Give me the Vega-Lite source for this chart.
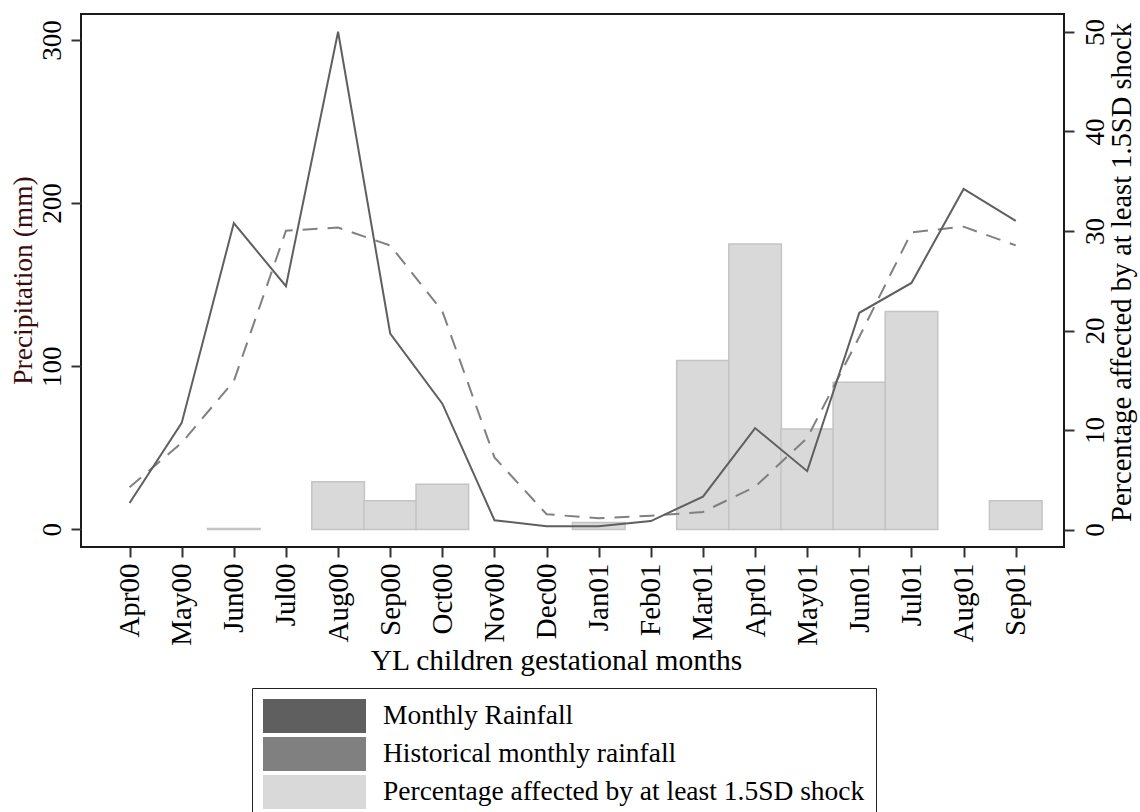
{
  "$schema": "https://vega.github.io/schema/vega-lite/v6.json",
  "width": 983,
  "height": 533,
  "autosize": "none",
  "padding": {"left": 81, "top": 14, "right": 76, "bottom": 265},
  "background": "white",
  "config": {
    "font": "Liberation Serif",
    "view": {"stroke": "#1a1a1a", "strokeWidth": 2},
    "axis": {"grid": false, "domain": false, "tickColor": "#333333", "tickWidth": 2, "tickSize": 10, "labelColor": "#000000", "titleColor": "#000000", "labelFontSize": 27, "titleFontSize": 27.5, "titleFontWeight": "normal", "labelFont": "Liberation Serif", "titleFont": "Liberation Serif"}
  },
  "data": {
    "values": [
      {"idx": 0, "month": "Apr00", "rainfall": 16.1, "historical": 25.8, "pct": null},
      {"idx": 1, "month": "May00", "rainfall": 65.2, "historical": 53, "pct": null},
      {"idx": 2, "month": "Jun00", "rainfall": 187.7, "historical": 90.8, "pct": 0.1},
      {"idx": 3, "month": "Jul00", "rainfall": 149, "historical": 183, "pct": null},
      {"idx": 4, "month": "Aug00", "rainfall": 305, "historical": 185, "pct": 4.8},
      {"idx": 5, "month": "Sep00", "rainfall": 120, "historical": 174, "pct": 2.9},
      {"idx": 6, "month": "Oct00", "rainfall": 77, "historical": 133.7, "pct": 4.55},
      {"idx": 7, "month": "Nov00", "rainfall": 5.5, "historical": 44, "pct": null},
      {"idx": 8, "month": "Dec00", "rainfall": 1.8, "historical": 9.2, "pct": null},
      {"idx": 9, "month": "Jan01", "rainfall": 1.8, "historical": 6.7, "pct": 0.7},
      {"idx": 10, "month": "Feb01", "rainfall": 5, "historical": 8.3, "pct": null},
      {"idx": 11, "month": "Mar01", "rainfall": 20, "historical": 10.6, "pct": 17.0},
      {"idx": 12, "month": "Apr01", "rainfall": 62, "historical": 26, "pct": 28.7},
      {"idx": 13, "month": "May01", "rainfall": 35.6, "historical": 56, "pct": 10.1},
      {"idx": 14, "month": "Jun01", "rainfall": 132.7, "historical": 118, "pct": 14.8},
      {"idx": 15, "month": "Jul01", "rainfall": 151, "historical": 182, "pct": 21.9},
      {"idx": 16, "month": "Aug01", "rainfall": 208.6, "historical": 185.5, "pct": null},
      {"idx": 17, "month": "Sep01", "rainfall": 189, "historical": 174, "pct": 2.9}
    ]
  },
  "encoding": {
    "x": {
      "field": "idx", "type": "quantitative",
      "scale": {"domain": [-0.836, 17.83], "nice": false, "zero": false},
      "axis": {
        "values": [0,1,2,3,4,5,6,7,8,9,10,11,12,13,14,15,16,17],
        "labelExpr": "['Apr00','May00','Jun00','Jul00','Aug00','Sep00','Oct00','Nov00','Dec00','Jan01','Feb01','Mar01','Apr01','May01','Jun01','Jul01','Aug01','Sep01'][datum.value]",
        "labelAngle": 270, "labelAlign": "right", "labelBaseline": "middle", "labelPadding": 6, "labelFontSize": 29,
        "title": "YL children gestational months", "titleFontSize": 29.5,
        "titleX": 475, "titleY": 113, "titleAlign": "center", "titleBaseline": "middle",
        "labelOverlap": false
      }
    }
  },
  "layer": [
    {
      "mark": {"type": "bar", "width": 52.6, "stroke": "#c4c4c4", "strokeWidth": 1.5},
      "encoding": {
        "y": {
          "field": "pct", "type": "quantitative",
          "scale": {"domain": [-1.75, 51.8], "nice": false, "zero": false},
          "axis": {
            "orient": "right", "values": [0,10,20,30,40,50],
            "labelAngle": 270, "labelAlign": "center", "labelBaseline": "top", "labelPadding": 8,
            "title": "Percentage affected by at least 1.5SD shock", "titleFontSize": 28.5,
            "titleAngle": 270, "titleX": 57, "titleY": 258, "titleAlign": "center", "titleBaseline": "middle"
          }
        },
        "color": {
          "datum": "pct",
          "type": "nominal",
          "scale": {
            "domain": ["rain", "hist", "pct"],
            "range": ["#5f5f5f", "#808080", "#d9d9d9"]
          },
          "legend": {
            "title": null,
            "orient": "none",
            "legendX": 171,
            "legendY": 674,
            "direction": "vertical",
            "strokeColor": "#222222",
            "padding": 11,
            "labelFont": "Liberation Serif",
            "labelFontSize": 27.5,
            "labelColor": "#000000",
            "labelLimit": 700,
            "labelOffset": 17,
            "symbolSize": 10201,
            "symbolStrokeWidth": 2,
            "clipHeight": 34,
            "rowPadding": 4,
            "labelExpr": "datum.value === 'rain' ? 'Monthly Rainfall' : (datum.value === 'hist' ? 'Historical monthly rainfall' : 'Percentage affected by at least 1.5SD shock')",
            "encode": {
              "legend": {"strokeWidth": {"value": 1.5}},
              "symbols": {
                "shape": {"value": {"signal": "datum.value === 'pct' ? 'M-1,-0.25H1V0.25H-1Z' : 'M-1,0H1'"}},
                "fill": {"value": {"signal": "datum.value === 'pct' ? '#d9d9d9' : 'transparent'"}},
                "stroke": {"value": {"signal": "datum.value === 'pct' ? '#c4c4c4' : (datum.value === 'rain' ? '#5f5f5f' : '#808080')"}},
                "strokeDash": {"value": {"signal": "datum.value === 'hist' ? [15, 10] : [1, 0]"}},
                "strokeWidth": {"value": 2},
                "opacity": {"value": 1},
                "fillOpacity": {"value": 1},
                "size": {"value": 10201}
              }
            }
          }
        }
      }
    },
    {
      "layer": [
        {
          "mark": {"type": "line", "strokeWidth": 2, "strokeDash": [15, 10]},
          "encoding": {
            "y": {"field": "historical", "type": "quantitative"},
            "color": {"datum": "hist", "type": "nominal"}
          }
        },
        {
          "mark": {"type": "line", "strokeWidth": 2},
          "encoding": {
            "y": {
              "field": "rainfall", "type": "quantitative",
              "scale": {"domain": [-10.9, 315.9], "nice": false, "zero": false},
              "axis": {
                "orient": "left", "values": [0,100,200,300],
                "labelAngle": 270, "labelAlign": "center", "labelBaseline": "bottom", "labelPadding": 5,
                "title": "Precipitation (mm)", "titleColor": "#3a0d0d",
                "titleAngle": 270, "titleX": -58, "titleY": 266, "titleAlign": "center", "titleBaseline": "middle"
              }
            },
            "color": {"datum": "rain", "type": "nominal"}
          }
        }
      ]
    }
  ],
  "resolve": {"scale": {"y": "independent"}}
}
